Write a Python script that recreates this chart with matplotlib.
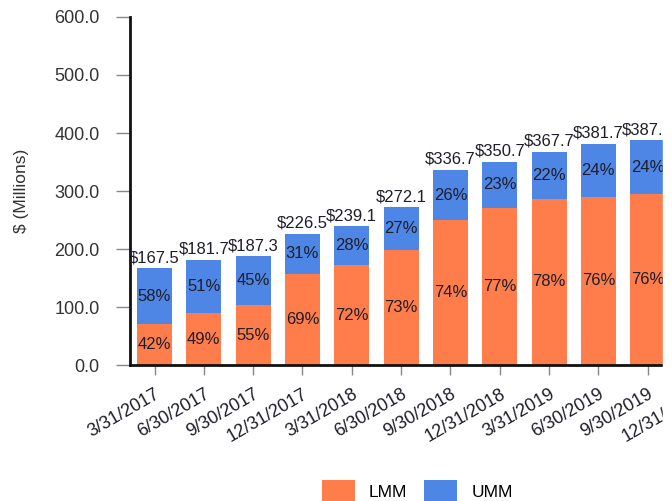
import matplotlib
matplotlib.use("Agg")
import matplotlib.pyplot as plt
import numpy as np
from matplotlib.patches import Rectangle

plt.rcParams['font.family'] = ['Liberation Sans', 'DejaVu Sans']

# data
quarters = ['3/31/2017', '6/30/2017', '9/30/2017', '12/31/2017', '3/31/2018', '6/30/2018',
            '9/30/2018', '12/31/2018', '3/31/2019', '6/30/2019', '9/30/2019', '12/31/2019']
totals = [167.5, 181.7, 187.3, 226.5, 239.1, 272.1, 336.7, 350.7, 367.7, 381.7, 387.5]
lmm_pct = [42, 49, 55, 69, 72, 73, 74, 77, 78, 76, 76]
umm_pct = [58, 51, 45, 31, 28, 27, 26, 23, 22, 24, 24]

orange = '#FF7D4A'
blue = '#4E86E6'
txt = '#1e1e28'

totals = np.array(totals)
lmm = totals * np.array(lmm_pct) / 100
umm = totals - lmm
x = np.arange(len(totals))

fig = plt.figure(figsize=(6.72, 5.01), dpi=100)
ax = fig.add_axes([130 / 672, 136 / 501, 591.6 / 672, 348 / 501])

b1 = ax.bar(x, lmm, width=0.71, color=orange, label='LMM')
b2 = ax.bar(x, umm, width=0.71, bottom=lmm, color=blue, label='UMM')

for i in range(len(totals)):
    ax.text(x[i], lmm[i] / 2, f'{lmm_pct[i]}%', ha='center', va='center', fontsize=12, color=txt)
    ax.text(x[i], lmm[i] + umm[i] / 2, f'{umm_pct[i]}%', ha='center', va='center', fontsize=12, color=txt)
    ax.annotate(f'${totals[i]:.1f}', (x[i], totals[i]), xytext=(0, 2), textcoords='offset points',
                ha='center', va='bottom', fontsize=12, color=txt)

ax.set_xlim(-0.497, 11.5)
ax.set_ylim(0, 600)
ax.set_yticks(np.arange(0, 601, 100))
ax.set_yticklabels([f'{v:.1f}' for v in np.arange(0, 601, 100)], fontsize=13, color='#333333')
ax.set_xticks(np.arange(len(quarters)))
ax.set_xticklabels(quarters, rotation=30, ha='right', rotation_mode='anchor', fontsize=13, color=txt)
ax.tick_params(axis='y', length=10, width=1, color='#888888', pad=12)
ax.tick_params(axis='x', length=7, width=1, color='#888888', pad=8)
ax.set_ylabel('$ (Millions)', fontsize=12.5, color='#333333', labelpad=18)

for s in ['top', 'right']:
    ax.spines[s].set_visible(False)
ax.spines['left'].set_linewidth(2)
ax.spines['bottom'].set_linewidth(2)
ax.spines['left'].set_color('#111111')
ax.spines['bottom'].set_color('#111111')

fig.legend(handles=[b1, b2], loc='center', bbox_to_anchor=(0.621, 0.02), ncol=2, frameon=False,
           fontsize=12.5, handlelength=1.9, handleheight=1.5, handletextpad=0.8, columnspacing=1.0)

# the source picture is cropped on the right
fig.patches.append(Rectangle((663 / 672, 0), 1, 1, transform=fig.transFigure, color='white', zorder=10))

fig.savefig('out.png', dpi=100)
